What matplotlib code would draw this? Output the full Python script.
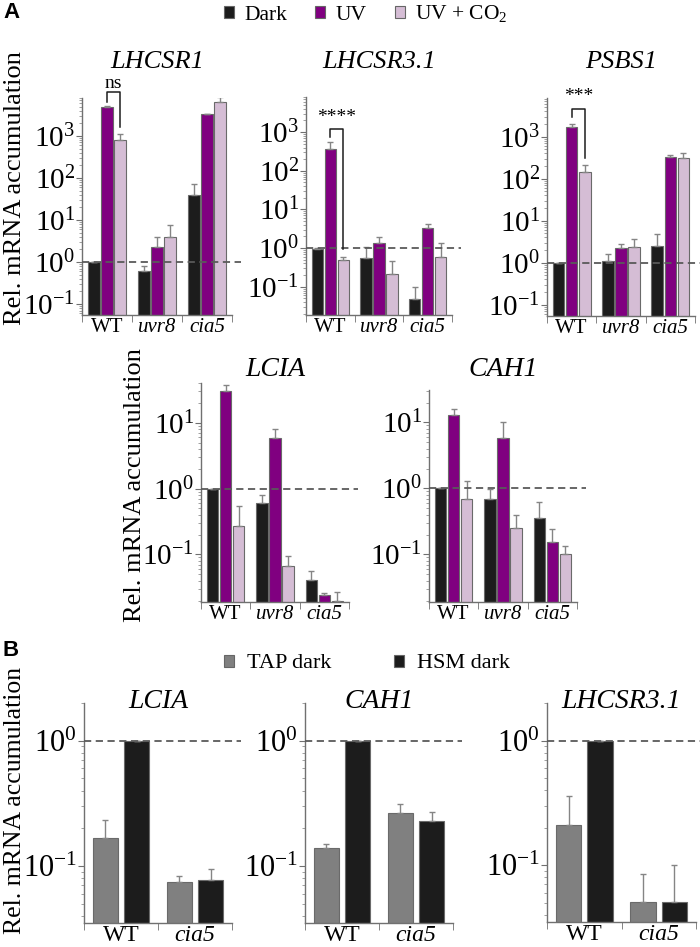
import numpy as np
import matplotlib.pyplot as plt
from matplotlib.patches import Patch
from matplotlib.ticker import LogLocator, NullFormatter

plt.rcParams['font.family'] = ['Liberation Serif', 'DejaVu Serif']
plt.rcParams['mathtext.fontset'] = 'custom'
plt.rcParams['mathtext.rm'] = 'Liberation Serif'
plt.rcParams['mathtext.it'] = 'Liberation Serif:italic'

W, H = 700, 947

# ---- panel A: rows = strains, columns = Dark, UV, UV + CO2
strains_a = ['WT', 'uvr8', 'cia5']
conditions_a = ['Dark', 'UV', 'UV + CO$_2$']
colors_a = ['#1c1c1c', '#800080', '#d5bdd5']

lhcsr1_mean = [[1.0, 4900, 820], [0.6, 2.3, 4.0], [40, 3300, 6500]]
lhcsr1_sd = [[0.0, 400, 280], [0.22, 1.7, 3.8], [33, 100, 1800]]

lhcsr31_mean = [[0.95, 370, 0.5], [0.57, 1.35, 0.22], [0.048, 3.4, 0.6]]
lhcsr31_sd = [[0.05, 170, 0.08], [0.5, 0.55, 0.25], [0.05, 0.9, 0.77]]

psbs1_mean = [[1.0, 1680, 147], [1.1, 2.3, 2.35], [2.45, 330, 305]]
psbs1_sd = [[0.0, 280, 65], [0.55, 0.55, 1.4], [2.35, 40, 110]]

lcia_mean = [[1.0, 30, 0.27], [0.61, 5.9, 0.066], [0.041, 0.0245, 0.0195]]
lcia_sd = [[0.0, 7, 0.28], [0.19, 2.1, 0.028], [0.016, 0.0015, 0.0075]]

cah1_mean = [[1.0, 12.8, 0.68], [0.7, 5.9, 0.25], [0.36, 0.155, 0.1]]
cah1_sd = [[0.0, 3.2, 0.6], [0.27, 4.1, 0.14], [0.27, 0.09, 0.034]]

# significance brackets (WT: UV vs UV + CO2)
sig_labels = ['ns', '****', '***']
sig_top = [11000, 1180, 4480]
sig_left_end = [6500, 750, 2990]
sig_right_end = [1650, 0.94, 306]
sig_label_y = [17500, 2460, 8800]

# ---- panel B: rows = strains, columns = TAP dark, HSM dark
strains_b = ['WT', 'cia5']
conditions_b = ['TAP dark', 'HSM dark']
colors_b = ['#808080', '#1c1c1c']

b_lcia_mean = [[0.166, 1.0], [0.075, 0.077]]
b_lcia_sd = [[0.066, 0.0], [0.008, 0.018]]
b_cah1_mean = [[0.14, 1.0], [0.263, 0.23]]
b_cah1_sd = [[0.01, 0.0], [0.047, 0.04]]
b_lhcsr31_mean = [[0.21, 1.0], [0.051, 0.051]]
b_lhcsr31_sd = [[0.15, 0.0], [0.034, 0.049]]


def add_axes(fig, x0, x1, y0, y1):
    return fig.add_axes([x0 / W, 1 - y1 / H, (x1 - x0) / W, (y1 - y0) / H])


def draw(ax, title, mean, sd, strains, colors, ylim, offsets, width,
         ticksize, labelsize, title_y, title_size):
    mean = np.array(mean)
    sd = np.array(sd)
    ns, nc = mean.shape
    ax.set_yscale('log')
    for c in range(nc):
        x = np.arange(ns) + 0.5 + offsets[c]
        ax.bar(x, mean[:, c], width, color=colors[c], edgecolor='#6a6a6a',
               linewidth=0.8, zorder=2, log=True)
        ax.errorbar(x, mean[:, c], yerr=[np.zeros(ns), sd[:, c]], fmt='none',
                    ecolor='#858585', elinewidth=1, capsize=2.5, capthick=1,
                    zorder=3)
    ax.axhline(1, xmin=0, xmax=1.06, color='#5a5a5a', ls=(0, (4, 2.5)),
               lw=1.3, clip_on=False, zorder=4)
    ax.set_xlim(0, ns)
    ax.set_ylim(*ylim)
    for s in ['top', 'right']:
        ax.spines[s].set_visible(False)
    for s in ['left', 'bottom']:
        ax.spines[s].set_color('#707070')
        ax.spines[s].set_linewidth(1)
    ax.set_xticks(np.arange(ns) + 0.5)
    ax.set_xticklabels(strains, fontsize=labelsize)
    for lab in ax.get_xticklabels():
        if lab.get_text() != 'WT':
            lab.set_fontstyle('italic')
    ax.set_xticks(np.arange(ns + 1), minor=True)
    ax.tick_params(axis='x', which='major', length=0, pad=2)
    ax.tick_params(axis='x', which='minor', length=5, color='#707070')
    ax.yaxis.set_major_locator(LogLocator(base=10, numticks=20))
    ax.yaxis.set_minor_locator(LogLocator(base=10, subs=np.arange(2, 10), numticks=20))
    ax.yaxis.set_minor_formatter(NullFormatter())
    ax.tick_params(axis='y', which='major', length=4, color='#707070',
                   labelsize=ticksize, pad=1)
    ax.tick_params(axis='y', which='minor', length=2.5, color='#909090')
    bb = ax.get_position()
    fig.text(bb.x0 + bb.width / 2, 1 - title_y / H, title, style='italic',
             fontsize=title_size, ha='center', va='center')


fig = plt.figure(figsize=(W / 100, H / 100), dpi=100)

off_a = [-0.265, 0.0, 0.265]
off_b = [-0.21, 0.21]

top_genes = ['LHCSR1', 'LHCSR3.1', 'PSBS1']
top_means = [lhcsr1_mean, lhcsr31_mean, psbs1_mean]
top_sds = [lhcsr1_sd, lhcsr31_sd, psbs1_sd]
top_boxes = [(82, 232, 98, 315), (306, 452, 97, 315), (547, 695, 98, 316)]
top_ylims = [(0.055, 8000), (0.0186, 8100), (0.054, 8300)]

for i in range(3):
    ax = add_axes(fig, *top_boxes[i])
    draw(ax, top_genes[i], top_means[i], top_sds[i], strains_a, colors_a,
         top_ylims[i], off_a, 0.235, 21, 15, 62, 19)
    xl = 0.5 + off_a[1]
    xr = 0.5 + off_a[2]
    ax.plot([xl, xl, xr, xr],
            [sig_left_end[i], sig_top[i], sig_top[i], sig_right_end[i]],
            color='#1c1c1c', lw=1.1, clip_on=False, zorder=5)
    ax.text((xl + xr) / 2, sig_label_y[i], sig_labels[i], ha='center',
            va='center', fontsize=14, clip_on=False)

mid_genes = ['LCIA', 'CAH1']
mid_means = [lcia_mean, cah1_mean]
mid_sds = [lcia_sd, cah1_sd]
mid_boxes = [(201, 349, 383, 602), (429, 577, 390, 602)]
mid_ylims = [(0.019, 40), (0.019, 31)]
for i in range(2):
    ax = add_axes(fig, *mid_boxes[i])
    draw(ax, mid_genes[i], mid_means[i], mid_sds[i], strains_a, colors_a,
         mid_ylims[i], off_a, 0.23, 21, 15, 369, 20)

b_genes = ['LCIA', 'CAH1', 'LHCSR3.1']
b_means = [b_lcia_mean, b_cah1_mean, b_lhcsr31_mean]
b_sds = [b_lcia_sd, b_cah1_sd, b_lhcsr31_sd]
b_boxes = [(84, 232, 703, 923), (305, 453, 703, 923), (547, 696, 703, 922)]
for i in range(3):
    ax = add_axes(fig, *b_boxes[i])
    draw(ax, b_genes[i], b_means[i], b_sds[i], strains_b, colors_b,
         (0.035, 2.0), off_b, 0.34, 22, 17, 701, 20)
    ax.tick_params(axis='x', which='major', pad=1.5)

# y labels
ylab = 'Rel. mRNA accumulation'
fig.text(15 / W, 1 - 188 / H, ylab, rotation=90, ha='center', va='center', fontsize=19)
fig.text(135 / W, 1 - 485 / H, ylab, rotation=90, ha='center', va='center', fontsize=19)
fig.text(15 / W, 1 - 800 / H, ylab, rotation=90, ha='center', va='center', fontsize=18.5)

# panel letters
fig.text(3 / W, 1 - 12 / H, 'A', family='Liberation Sans', weight='bold',
         fontsize=16, va='center', ha='left')
fig.text(3 / W, 1 - 651 / H, 'B', family='Liberation Sans', weight='bold',
         fontsize=16, va='center', ha='left')

# legends
handles_a = [Patch(facecolor=colors_a[i], edgecolor='#666666', lw=0.8,
                   label=conditions_a[i]) for i in range(3)]
fig.legend(handles=handles_a, loc='center', bbox_to_anchor=(366 / W, 1 - 14 / H),
           ncol=3, frameon=False, fontsize=15.5, handlelength=0.45,
           handleheight=0.45, handletextpad=0.5, columnspacing=1.3,
           borderpad=0)

handles_b = [Patch(facecolor=colors_b[i], edgecolor='#666666', lw=0.8,
                   label=conditions_b[i]) for i in range(2)]
fig.legend(handles=handles_b, loc='center', bbox_to_anchor=(367 / W, 1 - 664 / H),
           ncol=2, frameon=False, fontsize=16, handlelength=0.45,
           handleheight=0.45, handletextpad=0.6, columnspacing=2.8,
           borderpad=0)

fig.savefig('out.png', dpi=100)
